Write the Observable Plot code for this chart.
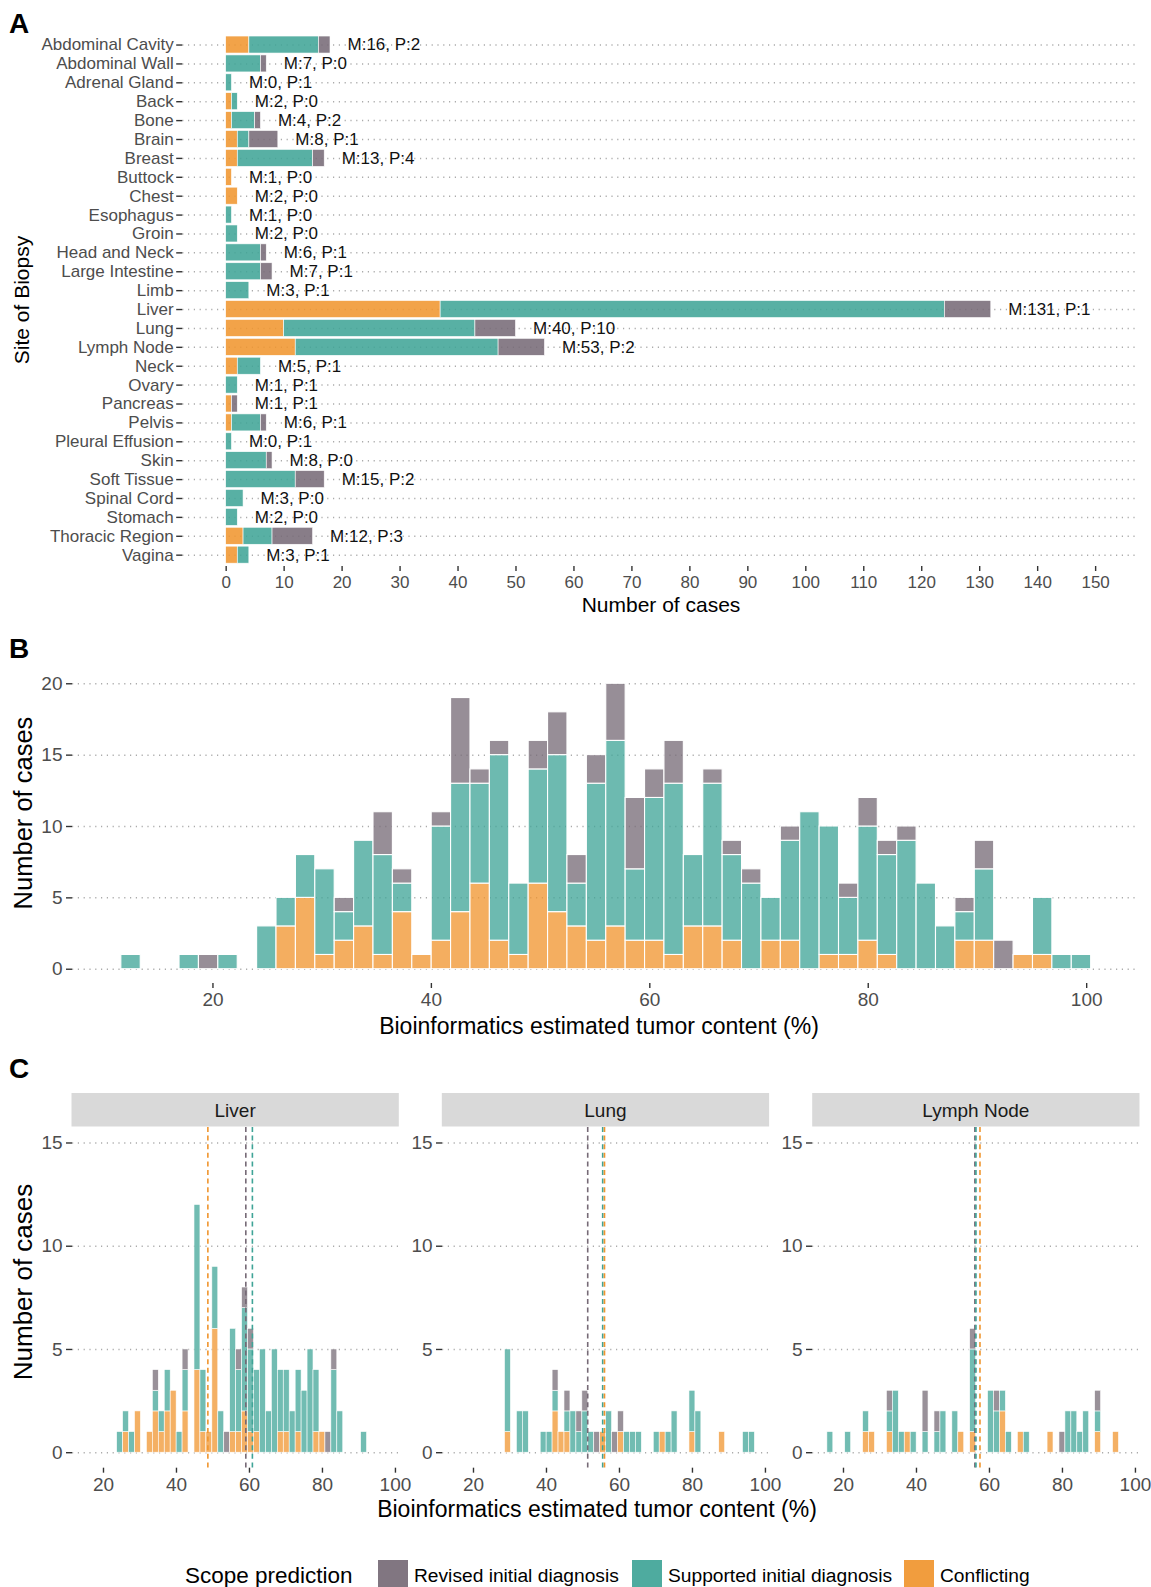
<!DOCTYPE html>
<html><head><meta charset="utf-8">
<script src="https://cdn.jsdelivr.net/npm/d3@7"></script>
<script src="https://cdn.jsdelivr.net/npm/@observablehq/plot@0.6"></script>
<style>
body{margin:0;background:#fff;}
#root{position:relative;width:1151px;height:1587px;overflow:hidden;background:#fff;}
</style></head>
<body><div id="root"></div>
<script>
// ---------------- DATA ----------------
const categories = ["Conflicting", "Supported initial diagnosis", "Revised initial diagnosis"];
const legendOrder = ["Revised initial diagnosis", "Supported initial diagnosis", "Conflicting"];
const categoryColors = ["#F0952E", "#3FA497", "#766A76"];

// Panel A
const sites = ["Abdominal Cavity","Abdominal Wall","Adrenal Gland","Back","Bone","Brain","Breast","Buttock","Chest","Esophagus","Groin","Head and Neck","Large Intestine","Limb","Liver","Lung","Lymph Node","Neck","Ovary","Pancreas","Pelvis","Pleural Effusion","Skin","Soft Tissue","Spinal Cord","Stomach","Thoracic Region","Vagina"];
const siteConflicting = [4,0,0,1,1,2,2,1,2,0,0,0,0,0,37,10,12,2,0,1,1,0,0,0,0,0,3,2];
const siteSupported   = [12,6,1,1,4,2,13,0,0,1,2,6,6,4,87,33,35,4,2,0,5,1,7,12,3,2,5,2];
const siteRevised     = [2,1,0,0,1,5,2,0,0,0,0,1,2,0,8,7,8,0,0,1,1,0,1,5,0,0,7,0];
const siteM = [16,7,0,2,4,8,13,1,2,1,2,6,7,3,131,40,53,5,1,1,6,0,8,15,3,2,12,3];
const siteP = [2,0,1,0,2,1,4,0,0,0,0,1,1,1,1,10,2,1,1,1,1,1,0,2,0,0,3,1];
const xTicksA = [0,10,20,30,40,50,60,70,80,90,100,110,120,130,140,150];

// Panel B (50 bins)
const histMin = 12.5, histWidth = 1.776;
const histConflicting = [0,0,0,0,0,0,0,0,3,5, 1,2,3,1,4,1,2,4,6,2, 1,6,4,3,2,3,2,2,1,3, 3,2,0,2,2,0,1,1,2,1, 0,0,0,2,2,0,1,1,0,0];
const histSupported   = [1,0,0,1,0,1,0,3,2,3, 6,2,6,7,2,0,8,9,7,13, 5,8,11,3,11,13,5,10,12,5, 10,6,6,3,7,11,9,4,8,7, 9,6,3,2,5,0,0,4,1,1];
const histRevised     = [0,0,0,0,1,0,0,0,0,0, 0,1,0,3,1,0,1,6,1,1, 0,2,3,2,2,4,5,2,3,0, 1,1,1,0,1,0,0,1,2,1, 1,0,0,1,2,2,0,0,0,0];
const xTicksB = [20,40,60,80,100];
const yTicksB = [0,5,10,15,20];

// Panel C (50 shared bins)
const facetSites = ["Liver","Lung","Lymph Node"];
const facetMin = 16.4, facetWidth = 1.6306;
const liverConflicting = [0,0,0,0,0,0,1,0,2,0, 1,2,1,2,3,0,2,0,4,1, 1,6,0,0,1,1,2,1,1,0, 0,0,1,1,0,1,0,0,1,1, 0,0,0,0,0,0,0,0,0,0];
const liverSupported   = [0,0,0,0,0,1,1,1,0,0, 0,1,1,2,0,1,2,0,8,3, 0,3,2,0,5,3,5,4,3,5, 2,5,3,3,2,3,3,5,3,0, 0,4,2,0,0,0,1,0,0,0];
const liverRevised     = [0,0,0,0,0,0,0,0,0,0, 0,1,0,0,0,0,1,0,0,0, 0,0,0,1,0,1,1,1,0,0, 0,0,0,0,0,0,0,0,0,0, 1,1,0,0,0,0,0,0,0,0];
const lungConflicting  = [0,0,0,0,0,0,0,0,1,0, 0,0,0,0,0,0,2,1,1,0, 0,0,0,0,1,0,0,1,0,0, 0,0,0,0,1,0,0,0,0,1, 0,0,0,0,1,0,0,0,0,0];
const lungSupported    = [0,0,0,0,0,0,0,0,4,0, 2,2,0,0,1,1,1,0,1,2, 1,2,1,0,0,2,0,0,1,1, 1,0,0,1,0,1,2,0,0,2, 2,0,0,0,0,0,0,0,1,1];
const lungRevised      = [0,0,0,0,0,0,0,0,0,0, 0,0,0,0,0,0,1,0,1,0, 1,1,0,1,0,0,1,1,0,0, 0,0,0,0,0,0,0,0,0,0, 0,0,0,0,0,0,0,0,0,0];
const nodeConflicting  = [0,0,0,0,0,0,1,1,0,0, 1,0,0,1,0,0,0,0,0,0, 0,0,1,0,1,0,0,0,0,2, 0,0,1,0,0,0,0,1,0,0, 0,0,0,0,0,1,0,0,1,0];
const nodeSupported    = [1,0,0,1,0,0,1,0,0,0, 1,3,1,0,1,0,1,0,1,2, 0,2,0,0,4,0,0,3,2,1, 1,0,0,1,0,0,0,0,0,0, 2,2,1,2,0,1,0,0,0,0];
const nodeRevised      = [0,0,0,0,0,0,0,0,0,0, 1,0,0,0,0,0,2,0,1,0, 0,0,0,0,1,0,0,0,1,0, 0,0,0,0,0,0,0,0,0,1, 0,0,0,0,0,1,0,0,0,0];
const meanConflicting = [48.6, 55.9, 57.4];
const meanSupported   = [60.8, 55.4, 56.3];
const meanRevised     = [59.0, 51.3, 56.0];
const xTicksC = [20,40,60,80,100];
const yTicksC = [0,5,10,15];

// ---------------- STYLE / LAYOUT ----------------
const FONT = '"Liberation Sans", Arial, Helvetica, sans-serif';
const GRID = {stroke: "#ABABAB", strokeOpacity: 1, strokeWidth: 1.5, strokeDasharray: "1.2,4.6"};
const TICK_TEXT = "#4D4D4D", TICK_LINE = "#333333";
const colorScale = {domain: categories, range: categoryColors};
const root = document.getElementById("root");
function place(el, left, top) { el.style.position = "absolute"; el.style.left = left + "px"; el.style.top = top + "px"; root.appendChild(el); }
const baseStyle = {background: "transparent", fontFamily: FONT, overflow: "visible"};

// ---------------- PANEL A ----------------
const rowsA = [];
sites.forEach((s, i) => {
  [siteConflicting, siteSupported, siteRevised].forEach((arr, j) => { if (arr[i] > 0) rowsA.push({site: s, cat: categories[j], n: arr[i]}); });
});
const labelsA = sites.map((s, i) => ({site: s, total: siteConflicting[i] + siteSupported[i] + siteRevised[i], text: `M:${siteM[i]}, P:${siteP[i]}`}));
const plotA = Plot.plot({
  width: 1151, height: 615,
  marginLeft: 182.2, marginRight: 12.4, marginTop: 33.2, marginBottom: 49,
  style: baseStyle,
  x: {domain: [-7.5, 157.5]},
  y: {domain: sites, paddingInner: 0.1, paddingOuter: 0.15, round: false},
  color: colorScale,
  marks: [
    Plot.gridY({...GRID}),
    Plot.barX(rowsA, {y: "site", x: "n", fill: "cat", fillOpacity: 0.87, stroke: "white", strokeWidth: 0.6}),
    Plot.text(labelsA, {y: "site", x: "total", text: "text", dx: 17, textAnchor: "start", fontSize: 17, fill: "#111"}),
    Plot.axisY({tickSize: 6, tickPadding: 3, fontSize: 17, fill: TICK_TEXT, stroke: TICK_LINE, strokeWidth: 1.4, label: null}),
    Plot.axisX({ticks: xTicksA, tickSize: 5, tickPadding: 4, fontSize: 17, fill: TICK_TEXT, stroke: TICK_LINE, strokeWidth: 1.4, label: null, tickFormat: d => d})
  ]
});
place(plotA, 0, 0);

// ---------------- PANEL B ----------------
const rowsB = [];
for (let k = 0; k < 50; k++) {
  [histConflicting, histSupported, histRevised].forEach((arr, j) => { if (arr[k] > 0) rowsB.push({k, cat: categories[j], n: arr[k]}); });
}
const plotB = Plot.plot({
  width: 1151, height: 400,
  marginLeft: 72, marginRight: 13.5, marginTop: 29, marginBottom: 57,
  style: baseStyle,
  x: {domain: [7.14, 104.7]},
  y: {domain: [-1, 21]},
  color: colorScale,
  marks: [
    Plot.gridY(yTicksB, {...GRID}),
    Plot.rectY(rowsB, {x1: d => histMin + (d.k - 0.5) * histWidth, x2: d => histMin + (d.k + 0.5) * histWidth, y: "n", fill: "cat", fillOpacity: 0.76, stroke: "white", strokeWidth: 1.1}),
    Plot.axisY({ticks: yTicksB, tickSize: 6, tickPadding: 4, fontSize: 19, fill: TICK_TEXT, stroke: TICK_LINE, strokeWidth: 1.4, label: null}),
    Plot.axisX({ticks: xTicksB, tickSize: 5, tickPadding: 4, fontSize: 19, fill: TICK_TEXT, stroke: TICK_LINE, strokeWidth: 1.4, label: null})
  ]
});
place(plotB, 0, 640);

// ---------------- PANEL C ----------------
const facetArrays = [
  [liverConflicting, liverSupported, liverRevised],
  [lungConflicting, lungSupported, lungRevised],
  [nodeConflicting, nodeSupported, nodeRevised]
];
const facetLeft = [71.5, 441.8, 812.2];
const facetFrameW = 327.3;
facetSites.forEach((site, f) => {
  const rows = [];
  for (let k = 0; k < 50; k++) {
    facetArrays[f].forEach((arr, j) => { if (arr[k] > 0) rows.push({k, cat: categories[j], n: arr[k]}); });
  }
  const means = [
    {cat: categories[2], v: meanRevised[f]},
    {cat: categories[1], v: meanSupported[f]},
    {cat: categories[0], v: meanConflicting[f]}
  ];
  const p = Plot.plot({
    width: 50 + facetFrameW + 14, height: 386,
    marginLeft: 50, marginRight: 14, marginTop: 5, marginBottom: 40.3,
    style: baseStyle,
    x: {domain: [11.51, 101.19]},
    y: {domain: [-0.75, 15.75]},
    color: colorScale,
    marks: [
      Plot.gridY(yTicksC, {...GRID}),
      Plot.rectY(rows, {x1: d => facetMin + (d.k - 0.5) * facetWidth, x2: d => facetMin + (d.k + 0.5) * facetWidth, y: "n", fill: "cat", fillOpacity: 0.74, stroke: "white", strokeWidth: 0.6}),
      Plot.ruleX(means, {x: "v", stroke: "cat", strokeWidth: 1.6, strokeDasharray: "5,3.6"}),
      Plot.axisY({ticks: yTicksC, tickSize: 6, tickPadding: 4, fontSize: 19, fill: TICK_TEXT, stroke: TICK_LINE, strokeWidth: 1.4, label: null}),
      Plot.axisX({ticks: xTicksC, tickSize: 5, tickPadding: 4, fontSize: 19, fill: TICK_TEXT, stroke: TICK_LINE, strokeWidth: 1.4, label: null})
    ]
  });
  place(p, facetLeft[f] - 50, 1122.4);
});

// ---------------- TEXT OVERLAY: titles, strips, legend ----------------
const ov = d3.create("svg").attr("width", 1151).attr("height", 1587)
  .style("position", "absolute").style("left", "0px").style("top", "0px")
  .style("font-family", FONT).style("pointer-events", "none");
function txt(x, y, s, size, opts = {}) {
  const t = ov.append("text").attr("x", x).attr("y", y).attr("dominant-baseline", "central")
    .attr("font-size", size).attr("fill", opts.fill || "#000").attr("text-anchor", opts.anchor || "middle").text(s);
  if (opts.bold) t.attr("font-weight", "bold");
  if (opts.rotate) t.attr("transform", `rotate(-90 ${x} ${y})`);
  return t;
}
// panel letters
txt(9, 23, "A", 28, {bold: true, anchor: "start"});
txt(9, 648, "B", 28, {bold: true, anchor: "start"});
txt(9, 1068, "C", 28, {bold: true, anchor: "start"});
// Panel A titles
txt(21, 300, "Site of Biopsy", 21, {rotate: true});
txt(661, 604, "Number of cases", 21);
// Panel B titles
txt(23, 813, "Number of cases", 25.5, {rotate: true});
txt(599, 1025.5, "Bioinformatics estimated tumor content (%)", 23);
// Panel C strips and titles
facetSites.forEach((s, f) => {
  ov.append("rect").attr("x", facetLeft[f]).attr("y", 1093).attr("width", facetFrameW).attr("height", 33.5).attr("fill", "#D9D9D9");
  txt(facetLeft[f] + facetFrameW / 2, 1110, s, 19, {fill: "#1A1A1A"});
});
txt(23, 1282, "Number of cases", 26, {rotate: true});
txt(597, 1509, "Bioinformatics estimated tumor content (%)", 23);
// Legend
txt(185, 1575, "Scope prediction", 22.5, {anchor: "start"});
const legX = [378, 632, 904];
legendOrder.forEach((c, i) => {
  const col = categoryColors[categories.indexOf(c)];
  ov.append("rect").attr("x", legX[i]).attr("y", 1560).attr("width", 30).attr("height", 28).attr("fill", col).attr("fill-opacity", 0.92);
  txt(legX[i] + 36, 1575, c, 19.2, {anchor: "start"});
});
root.appendChild(ov.node());
</script>
</body></html>
